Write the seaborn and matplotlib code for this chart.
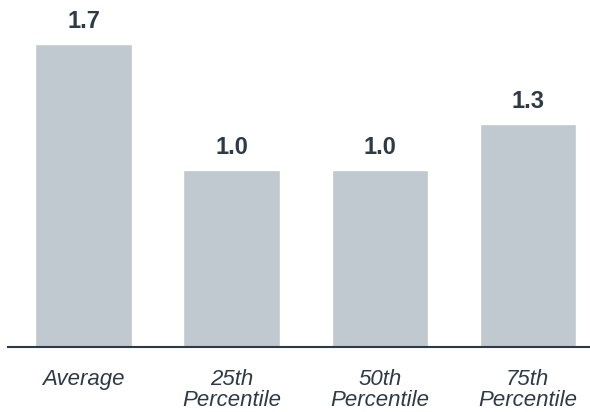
import matplotlib
matplotlib.use("Agg")
import matplotlib.pyplot as plt
import seaborn as sns
import pandas as pd

categories = ["Average", "25th\nPercentile", "50th\nPercentile", "75th\nPercentile"]
values = [1.71, 1.0, 1.0, 1.26]

sns.set_style("white")
plt.rcParams["font.family"] = ["Liberation Sans", "DejaVu Sans"]

df = pd.DataFrame({"stat": categories, "value": values})

fig = plt.figure(figsize=(5.9, 4.12), dpi=100)
ax = fig.add_axes([8 / 590, 65 / 412, 1 - 8 / 590, 347 / 412])

sns.barplot(data=df, x="stat", y="value", color="#BFC9CF", saturation=1,
            width=0.65, ax=ax)

# value labels above bars
for i, v in enumerate(values):
    ax.annotate(f"{v:.1f}", (i, v), xytext=(0, 8), textcoords="offset points",
                ha="center", va="bottom", fontsize=17, fontweight="bold",
                color="#2E3A45")

ax.set_xlim(-0.51, 3.42)
ax.set_ylim(0, 347 / 177)
ax.set_xlabel("")
ax.set_ylabel("")
ax.set_yticks([])
ax.tick_params(axis="x", length=0, pad=16, labelsize=16, labelcolor="#2E3A45")
for lab in ax.get_xticklabels():
    lab.set_fontstyle("italic")
    lab.set_linespacing(1.0)

for s in ["top", "right", "left"]:
    ax.spines[s].set_visible(False)
ax.spines["bottom"].set_color("#2E3A45")
ax.spines["bottom"].set_linewidth(1.5)

fig.savefig("out.png", dpi=100)
